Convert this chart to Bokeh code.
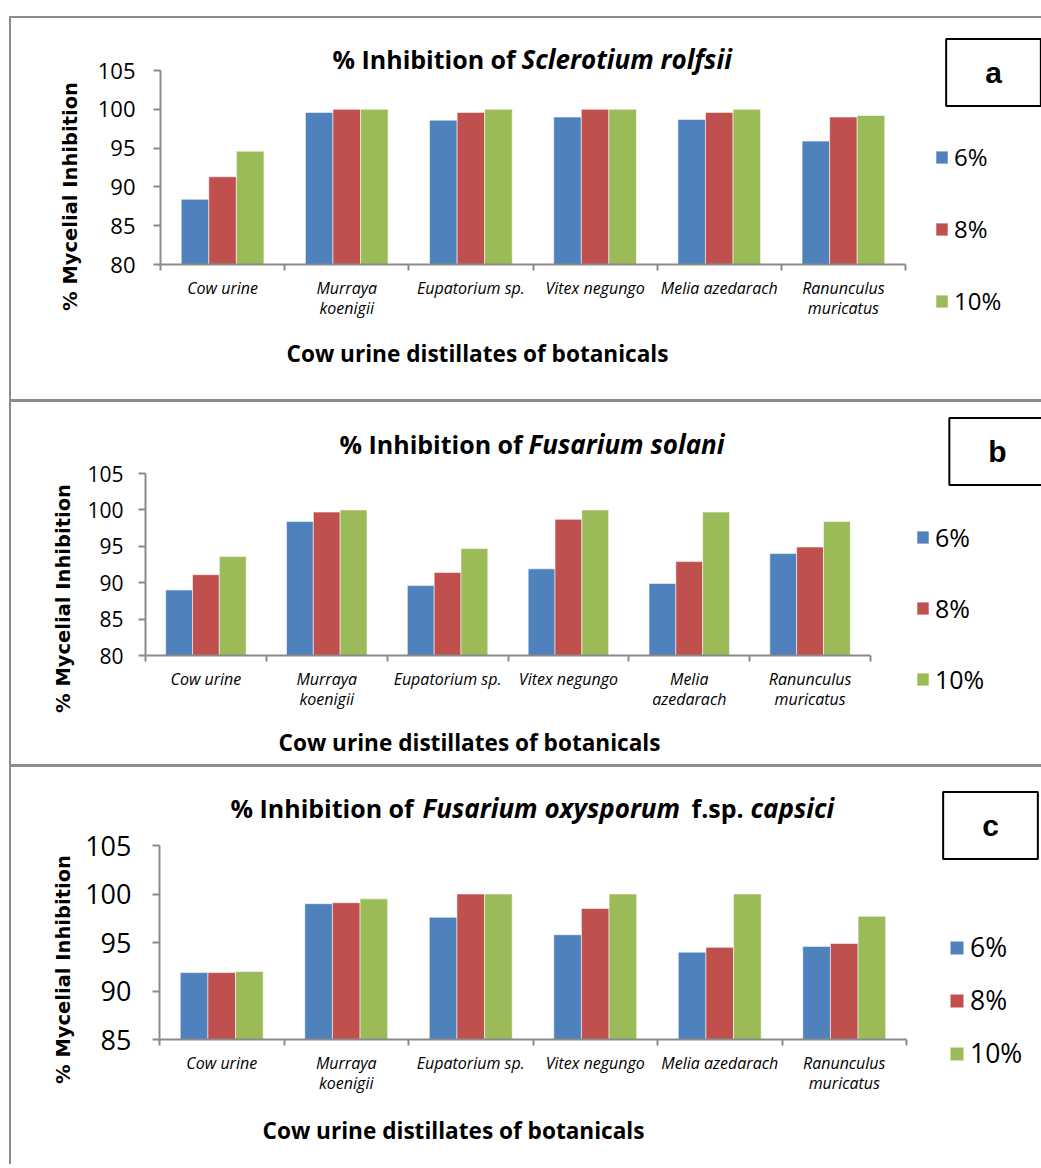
import math
import numpy as np
from bokeh.plotting import figure
from bokeh.models import (Range1d, FixedTicker, Label, Legend, LegendItem,
                          ColumnDataSource, CustomJSTickFormatter)
from bokeh.transform import dodge
from bokeh.embed import file_html
from bokeh.resources import INLINE

# ---------------- data ----------------
series_names = ["6%", "8%", "10%"]
colors = ["#4F81BD", "#C0504D", "#9BBB59"]

categories = ["Cow urine", "Murraya koenigii", "Eupatorium sp.",
              "Vitex negungo", "Melia azedarach", "Ranunculus muricatus"]

ticklabels_a = ["Cow urine", "Murraya\nkoenigii", "Eupatorium sp.",
                "Vitex negungo", "Melia azedarach", "Ranunculus\nmuricatus"]
ticklabels_b = ["Cow urine", "Murraya\nkoenigii", "Eupatorium sp.",
                "Vitex negungo", "Melia\nazedarach", "Ranunculus\nmuricatus"]
ticklabels_c = ["Cow urine", "Murraya\nkoenigii", "Eupatorium sp.",
                "Vitex negungo", "Melia azedarach", "Ranunculus\nmuricatus"]

# (a) Sclerotium rolfsii
a_6 = [88.4, 99.6, 98.6, 99.0, 98.7, 95.9]
a_8 = [91.3, 100.0, 99.6, 100.0, 99.6, 99.0]
a_10 = [94.6, 100.0, 100.0, 100.0, 100.0, 99.2]
# (b) Fusarium solani
b_6 = [89.0, 98.4, 89.6, 91.9, 89.9, 94.0]
b_8 = [91.1, 99.7, 91.4, 98.7, 92.9, 94.9]
b_10 = [93.6, 100.0, 94.7, 100.0, 99.7, 98.4]
# (c) Fusarium oxysporum f.sp. capsici
c_6 = [91.9, 99.0, 97.6, 95.8, 94.0, 94.6]
c_8 = [91.9, 99.1, 100.0, 98.5, 94.5, 94.9]
c_10 = [92.0, 99.5, 100.0, 100.0, 100.0, 97.7]

yticks_ab = [80, 85, 90, 95, 100, 105]
yticks_c = [85, 90, 95, 100, 105]

xtitle_text = "Cow urine distillates of botanicals"
ytitle_text = "% Mycelial Inhibition"

AXIS_GRAY = "#8a8a8a"
G = "#8c8c8c"
PAGE_W, PAGE_H = 1041, 1168


def make_chart(cfg):
    W, H = PAGE_W, cfg["height"]
    oy = cfg["origin_y"]
    FL, FR, FT, FB = cfg["frame"]       # page coords of the frame
    yt = cfg["yticks"]
    n = len(categories)
    styles = {"position": "absolute", "top": f"{oy}px", "left": "0px",
              "box-shadow": cfg["shadow"]}
    p = figure(width=W, height=H,
               x_range=Range1d(0, n), y_range=Range1d(yt[0], yt[-1]),
               output_backend="svg", toolbar_location=None,
               min_border_left=FL, min_border_right=W - FR,
               min_border_top=FT - oy, min_border_bottom=H - (FB - oy),
               styles=styles)
    p.border_fill_color = None
    p.background_fill_color = "white"
    p.outline_line_color = None
    p.xgrid.visible = False
    p.ygrid.visible = False

    centers = list(np.arange(n) + 0.5)
    data = {"x": centers, "cat": categories}
    for nm, vals in zip(series_names, cfg["values"]):
        data[nm] = vals
    src = ColumnDataSource(data)

    bw = 0.222
    for i, (nm, col) in enumerate(zip(series_names, colors)):
        p.vbar(x=dodge("x", (i - 1) * bw, range=p.x_range), top=nm,
               bottom=yt[0], width=bw, source=src,
               fill_color=col, line_color="white", line_alpha=0.55,
               line_width=1)

    xa = p.xaxis[0]
    xa.ticker = FixedTicker(ticks=centers, minor_ticks=list(range(n + 1)))
    xa.formatter = CustomJSTickFormatter(args=dict(labels=cfg["ticklabels"]),
                                         code="return labels[Math.floor(tick)]")
    xa.major_tick_line_color = None
    xa.major_tick_out = 0
    xa.major_tick_in = 0
    xa.minor_tick_out = 6
    xa.minor_tick_in = 0
    xa.minor_tick_line_color = AXIS_GRAY
    xa.minor_tick_line_width = 2
    xa.axis_line_color = AXIS_GRAY
    xa.axis_line_width = 2
    xa.major_label_text_font = "Open Sans"
    xa.major_label_text_font_style = "italic"
    xa.major_label_text_font_size = "16px"
    xa.major_label_text_line_height = 0.92
    xa.major_label_text_color = "black"
    xa.major_label_standoff = 6

    ya = p.yaxis[0]
    ya.ticker = FixedTicker(ticks=yt, minor_ticks=[])
    ya.major_tick_out = 7
    ya.major_tick_in = 0
    ya.major_tick_line_color = AXIS_GRAY
    ya.major_tick_line_width = 2
    ya.axis_line_color = AXIS_GRAY
    ya.axis_line_width = 2
    ya.major_label_text_font = "Open Sans"
    ya.major_label_text_font_size = cfg["ytick_size"]
    ya.major_label_text_color = "black"
    ya.major_label_standoff = cfg["ytick_standoff"]
    return p


# overlay figure holding every text outside the plotting frames
ov = figure(width=PAGE_W, height=PAGE_H, x_range=Range1d(0, PAGE_W),
            y_range=Range1d(PAGE_H, 0), output_backend="svg",
            toolbar_location=None, x_axis_type=None, y_axis_type=None,
            min_border=0, min_border_left=0, min_border_right=0,
            min_border_top=0, min_border_bottom=0,
            styles={"position": "absolute", "top": "0px", "left": "0px"})
ov.border_fill_color = None
ov.background_fill_color = None
ov.outline_line_color = None
ov.xgrid.visible = False
ov.ygrid.visible = False

# degenerate (zero-size) renderers that only provide the legend swatches
swatches = [ov.vbar(x=[0], top=[0], bottom=[0], width=0, fill_color=c,
                    line_color="white", line_alpha=0.55) for c in colors]


def lab(px, py, text, size, style="bold", font="Open Sans", align="left",
        angle=0.0, **kw):
    ov.add_layout(Label(x=px, y=py, text=text, text_font=font,
                        text_font_size=f"{size}px", text_font_style=style,
                        text_align=align, text_baseline="middle",
                        angle=angle, text_color="black", **kw))


def decorate(cfg):
    for (px, txt, st) in cfg["title"]:
        size = 26 if "italic" in st else 25
        lab(px, cfg["title_y"], txt, size, style=st)
    lab(cfg["xtitle"][0], cfg["xtitle"][1], xtitle_text, 22.6, align="center")
    lab(cfg["ytitle"][0], cfg["ytitle"][1], ytitle_text, 19.5,
        font="DejaVu Sans", align="center", angle=math.pi / 2)
    bx, by, letter = cfg["box"]
    lab(bx, by, letter, 30, font="Liberation Sans", align="center",
        padding=(39, 17), border_line_color="black", border_line_width=2,
        background_fill_color="white")
    lg = cfg["legend"]
    items = [LegendItem(label=nm, renderers=[r])
             for nm, r in zip(series_names, swatches)]
    legend_h = 3 * lg["lh"] + 2 * lg["sp"]
    leg = Legend(items=items, orientation="vertical",
                 location=(lg["x"], PAGE_H - (lg["top"] + legend_h)),
                 glyph_width=lg["gw"], glyph_height=lg["gh"],
                 label_height=lg["lh"], spacing=lg["sp"], padding=0, margin=0,
                 border_line_color=None, background_fill_color=None,
                 background_fill_alpha=0, label_standoff=5,
                 label_text_font="Open Sans", label_text_color="black",
                 label_text_font_size=lg["fs"])
    ov.add_layout(leg)


cfg_a = dict(height=399, origin_y=0, frame=(160, 905, 70, 264),
             yticks=yticks_ab, values=[a_6, a_8, a_10], ticklabels=ticklabels_a,
             shadow=(f"inset 9px 0 0 #fff, inset 0 16px 0 #fff, "
                     f"inset 11px 0 0 {G}, inset 0 18px 0 {G}"),
             ytick_size="22px", ytick_standoff=18,
             title=[(332, "% Inhibition of", "bold"),
                    (521, "Sclerotium rolfsii", "bold italic")],
             title_y=58, xtitle=(477, 353), ytitle=(70, 196),
             box=(993, 72, "a"),
             legend=dict(x=934, top=143, gw=15, gh=16, lh=32, sp=39, fs="24px"))

cfg_b = dict(height=365, origin_y=399, frame=(145, 870, 473, 655),
             yticks=yticks_ab, values=[b_6, b_8, b_10], ticklabels=ticklabels_b,
             shadow=(f"inset 9px 0 0 #fff, inset 11px 0 0 {G}, "
                     f"inset 0 3px 0 {G}"),
             ytick_size="21px", ytick_standoff=15,
             title=[(339, "% Inhibition of", "bold"),
                    (528, "Fusarium solani", "bold italic")],
             title_y=443, xtitle=(469, 742), ytitle=(63, 598),
             box=(997, 451, "b"),
             legend=dict(x=915, top=520, gw=15, gh=16, lh=34, sp=37, fs="25px"))

cfg_c = dict(height=400, origin_y=764, frame=(159, 906, 845, 1039),
             yticks=yticks_c, values=[c_6, c_8, c_10], ticklabels=ticklabels_c,
             shadow=(f"inset 9px 0 0 #fff, inset 11px 0 0 {G}, "
                     f"inset 0 3px 0 {G}"),
             ytick_size="27px", ytick_standoff=21,
             title=[(230, "% Inhibition of", "bold"),
                    (422, "Fusarium oxysporum", "bold italic"),
                    (691, "f.sp.", "bold"),
                    (750, "capsici", "bold italic")],
             title_y=807, xtitle=(453, 1130), ytitle=(63, 969),
             box=(990, 825, "c"),
             legend=dict(x=948, top=929, gw=17, gh=17, lh=36, sp=17, fs="26.5px"))

charts = []
for cfg in (cfg_a, cfg_b, cfg_c):
    charts.append(make_chart(cfg))
    decorate(cfg)

open("out.html", "w").write(file_html(charts + [ov], INLINE))
